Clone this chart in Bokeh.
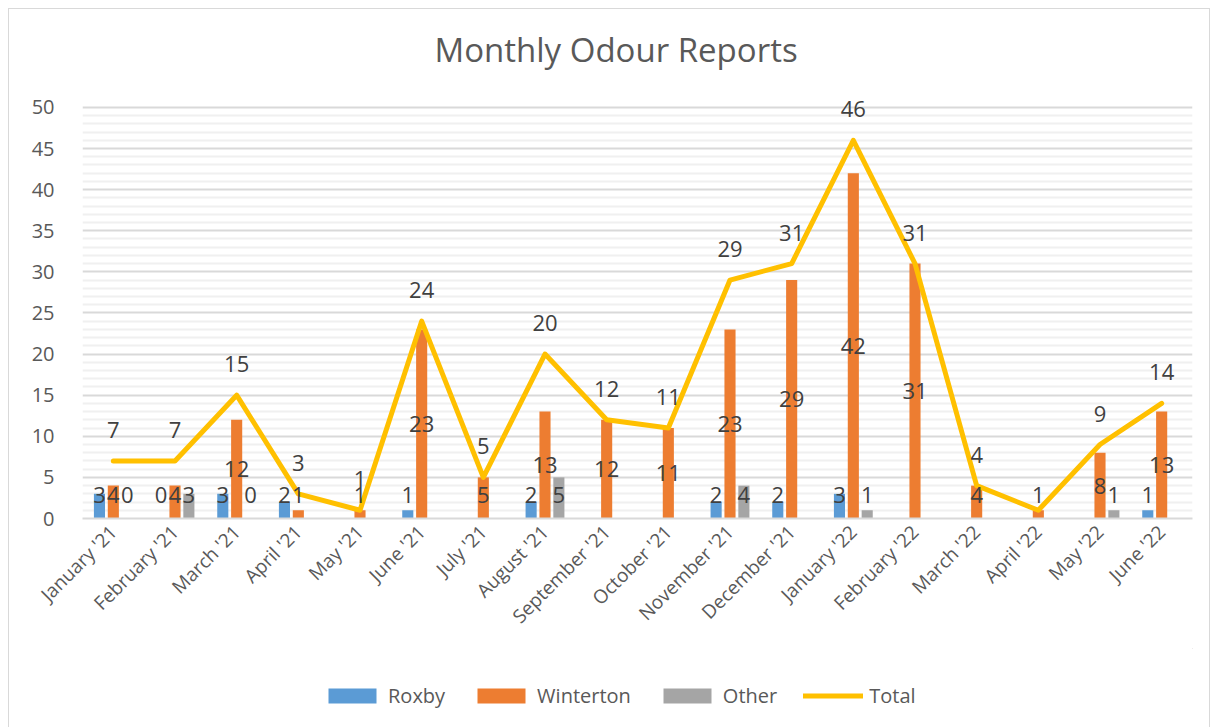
import math
import numpy as np
from bokeh.plotting import figure
from bokeh.layouts import column
from bokeh.models import (ColumnDataSource, FactorRange, Range1d, FixedTicker,
                          Legend, LegendItem, InlineStyleSheet)
from bokeh.transform import dodge
from bokeh.core.properties import value
from bokeh.embed import file_html
from bokeh.resources import INLINE

months = ["January '21", "February '21", "March '21", "April '21", "May '21", "June '21",
          "July '21", "August '21", "September '21", "October '21", "November '21",
          "December '21", "January '22", "February '22", "March '22", "April '22",
          "May '22", "June '22"]
roxby = [3, 0, 3, 2, None, 1, None, 2, None, None, 2, 2, 3, None, None, None, None, 1]
winterton = [4, 4, 12, 1, 1, 23, 5, 13, 12, 11, 23, 29, 42, 31, 4, 1, 8, 13]
other = [0, 3, 0, None, None, None, None, 5, None, None, 4, None, 1, None, None, None, 1, None]
total = [7, 7, 15, 3, 1, 24, 5, 20, 12, 11, 29, 31, 46, 31, 4, 1, 9, 14]
# total labels as they appear in the reference (April '22 shows no total label)
total_label_shown = [True] * 15 + [False] + [True] * 2
y_max = 50
y_major_step = 5

FONT = value("Open Sans")
TXT = "#595959"
LBL = "#404040"
COLORS = {"Roxby": "#5B9BD5", "Winterton": "#ED7D31", "Other": "#A5A5A5", "Total": "#FFC000"}

W = 1208
p = figure(x_range=FactorRange(*months), y_range=Range1d(0, 54),
           width=W, height=648, output_backend="svg", toolbar_location=None,
           min_border_left=82, min_border_right=16, min_border_top=74, min_border_bottom=130)
p.x_range.range_padding = 0
p.outline_line_color = None

p.title.text = "Monthly Odour Reports"
p.title.align = "left"
p.title.offset = 352
p.title.standoff = 5
p.title.text_font = "Open Sans"
p.title.text_font_size = "33px"
p.title.text_font_style = "normal"
p.title.text_color = TXT

def bars(vals):
    return [0 if v is None else v for v in vals]

def labels(vals):
    xs = [m for m, v in zip(months, vals) if v is not None]
    vs = [v for v in vals if v is not None]
    ys = [float(y) for y in np.maximum(np.array(vs, dtype=float) / 2.0, 2.9)]
    return ColumnDataSource(dict(month=xs, y=ys, t=[str(v) for v in vs]))

src = ColumnDataSource(dict(month=months, roxby=bars(roxby), winterton=bars(winterton),
                            other=bars(other), total=total))

series = [("Roxby", "roxby", roxby, -0.225),
          ("Winterton", "winterton", winterton, 0.0),
          ("Other", "other", other, 0.225)]
for name, col, vals, off in series:
    p.vbar(x=dodge("month", off, range=p.x_range), top=col, width=0.18, source=src,
           fill_color=COLORS[name], line_color=None)

p.line(x="month", y="total", source=src, line_color=COLORS["Total"], line_width=5,
       line_join="round", line_cap="round")

for name, col, vals, off in series:
    p.text(x=dodge("month", off, range=p.x_range), y="y", text="t", source=labels(vals),
           text_align="center", text_baseline="middle", text_font=FONT,
           text_font_size="22px", text_color=LBL)

tsrc = ColumnDataSource(dict(
    month=[m for m, s in zip(months, total_label_shown) if s],
    y=[v for v, s in zip(total, total_label_shown) if s],
    t=[str(v) for v, s in zip(total, total_label_shown) if s]))
p.text(x="month", y="y", text="t", source=tsrc, y_offset=-31, text_align="center",
       text_baseline="middle", text_font=FONT, text_font_size="22px", text_color=LBL)

major = list(range(0, y_max + 1, y_major_step))
minor = [v for v in range(0, y_max + 1) if v % y_major_step]
p.yaxis.ticker = FixedTicker(ticks=major, minor_ticks=minor)
p.yaxis.axis_line_color = None
p.yaxis.major_tick_line_color = None
p.yaxis.minor_tick_line_color = None
p.yaxis.major_label_standoff = 22
p.yaxis.major_label_text_font = "Open Sans"
p.yaxis.major_label_text_font_size = "20px"
p.yaxis.major_label_text_color = TXT

p.xaxis.axis_line_color = "#d9d9d9"
p.xaxis.axis_line_width = 2
p.xaxis.major_tick_line_color = None
p.xaxis.minor_tick_line_color = None
p.xaxis.major_label_orientation = math.pi / 4
p.xaxis.major_label_standoff = 4
p.xaxis.major_label_text_font = "Open Sans"
p.xaxis.major_label_text_font_size = "19px"
p.xaxis.major_label_text_color = TXT

p.xgrid.grid_line_color = None
p.ygrid.grid_line_color = "#d9d9d9"
p.ygrid.grid_line_width = 2
p.ygrid.minor_grid_line_color = "#f0f0f0"
p.ygrid.minor_grid_line_width = 2

# legend strip below the chart (placeholder renderers sit outside its visible range)
lf = figure(width=W, height=75, x_range=Range1d(0, 1), y_range=Range1d(0, 1),
            output_backend="svg", toolbar_location=None, title=None,
            x_axis_type=None, y_axis_type=None, min_border=0)
lf.outline_line_color = None
lf.grid.visible = False
items = []
for name in ["Roxby", "Winterton", "Other"]:
    r = lf.vbar(x=[5], top=[5], bottom=[4], width=0.1, fill_color=COLORS[name], line_color=None)
    items.append(LegendItem(label=name, renderers=[r]))
rl = lf.line(x=[5, 6], y=[5, 5], line_color=COLORS["Total"], line_width=5, line_cap="round")
items.append(LegendItem(label="Total", renderers=[rl]))

legend = Legend(items=items, orientation="horizontal", location=(240, 14),
                glyph_width=60, glyph_height=19, spacing=26, label_standoff=6,
                label_text_font="Open Sans", label_text_font_size="20px",
                label_text_color=TXT, border_line_color=None, background_fill_alpha=0,
                margin=0, padding=4)
lf.add_layout(legend, "center")

frame_css = InlineStyleSheet(css=""":host::after {
  content: ''; position: absolute; left: 8px; top: 8px; right: -2px; bottom: -8px;
  border: 1px solid #d9d9d9; pointer-events: none; z-index: 100;
}""")
layout = column(p, lf, spacing=0, stylesheets=[frame_css])

open("out.html", "w").write(file_html(layout, INLINE))
